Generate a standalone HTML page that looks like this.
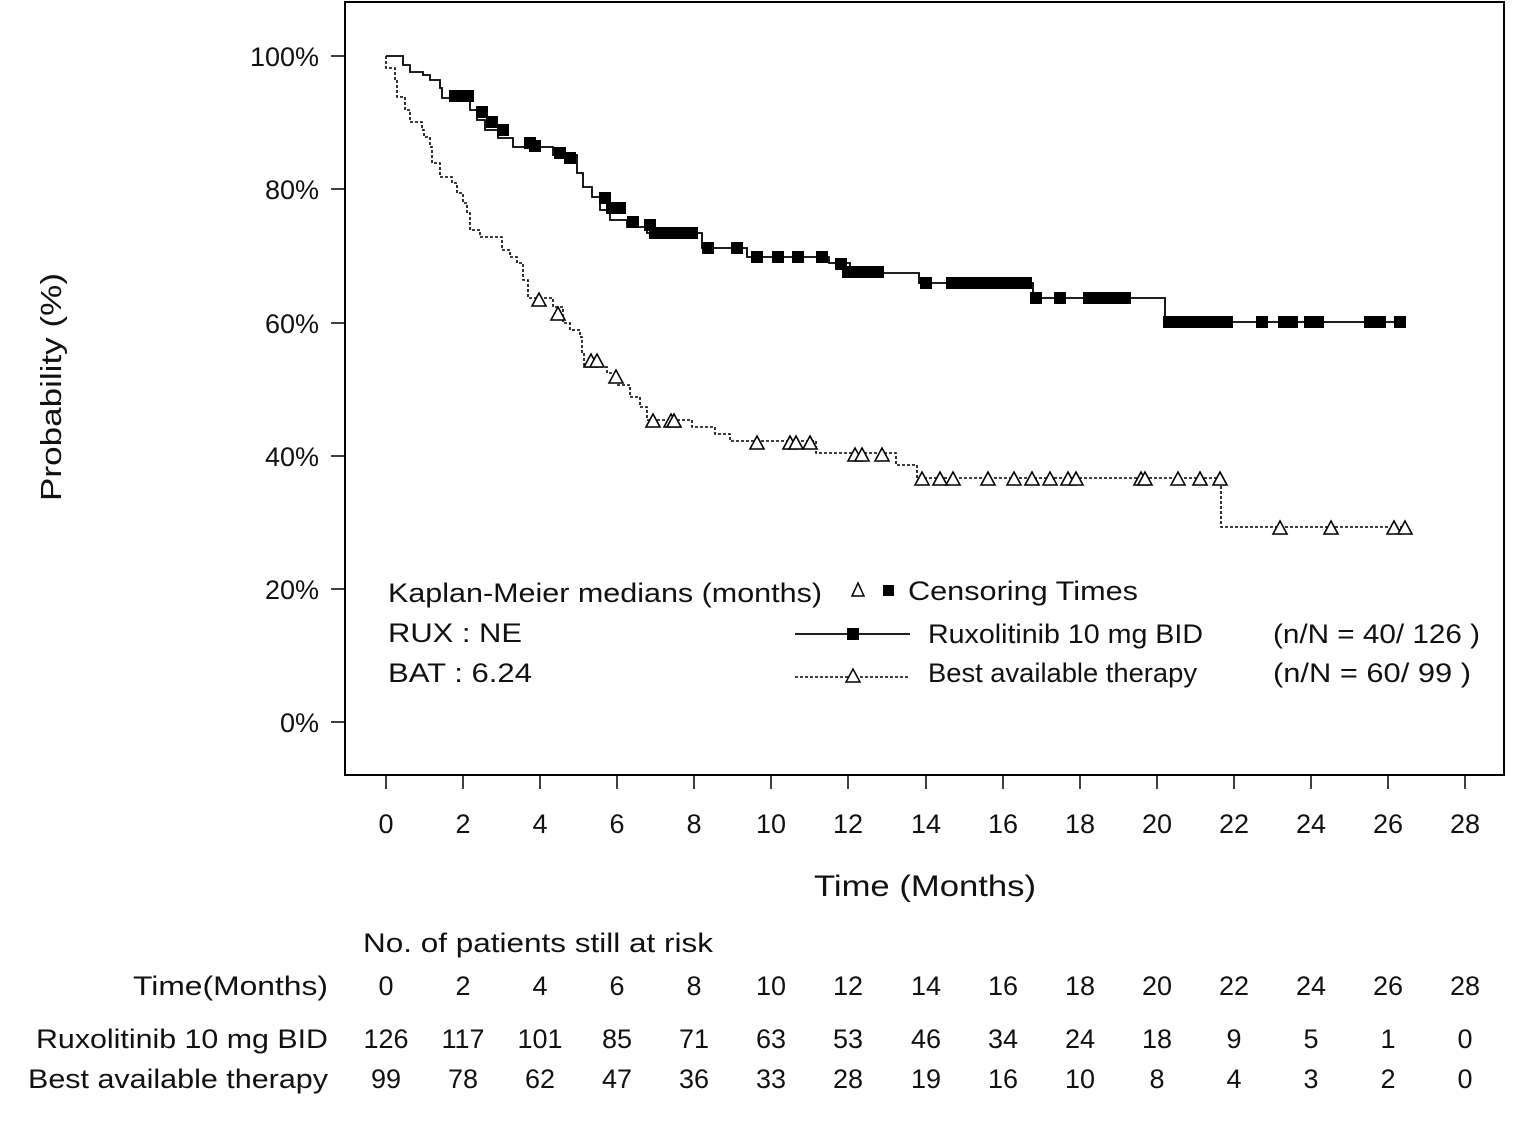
<!DOCTYPE html>
<html><head><meta charset="utf-8"><style>
html,body{margin:0;padding:0;background:#fff;}
svg{display:block;}
text{font-family:"Liberation Sans",Arial,sans-serif;fill:#111;}
</style></head><body>
<svg width="1530" height="1146" viewBox="0 0 1530 1146" xmlns="http://www.w3.org/2000/svg">
<defs>
<g id="sq"><rect x="-6" y="-6" width="12" height="12" fill="#000"/></g>
<g id="tr"><path d="M0,-7 L7,6 L-7,6 Z" fill="#fff" stroke="#000" stroke-width="1.6"/></g>
</defs>
<rect x="345" y="2" width="1159" height="773" fill="none" stroke="#000" stroke-width="2"/>
<!-- y ticks -->
<g stroke="#000" stroke-width="1.5">
<line x1="331" y1="56" x2="345" y2="56"/><line x1="331" y1="189" x2="345" y2="189"/>
<line x1="331" y1="323" x2="345" y2="323"/><line x1="331" y1="456" x2="345" y2="456"/>
<line x1="331" y1="589" x2="345" y2="589"/><line x1="331" y1="722" x2="345" y2="722"/>
</g>
<g font-size="27" text-anchor="end">
<text x="319" y="66">100%</text><text x="319" y="199">80%</text><text x="319" y="333">60%</text>
<text x="319" y="466">40%</text><text x="319" y="599">20%</text><text x="319" y="732">0%</text>
</g>
<text transform="translate(61,387) rotate(-90)" font-size="29" text-anchor="middle" textLength="228" lengthAdjust="spacingAndGlyphs">Probability (%)</text>
<!-- x ticks -->
<g stroke="#000" stroke-width="1.5">
<line x1="386" y1="775" x2="386" y2="789"/><line x1="463" y1="775" x2="463" y2="789"/>
<line x1="540" y1="775" x2="540" y2="789"/><line x1="617" y1="775" x2="617" y2="789"/>
<line x1="694" y1="775" x2="694" y2="789"/><line x1="771" y1="775" x2="771" y2="789"/>
<line x1="848" y1="775" x2="848" y2="789"/><line x1="926" y1="775" x2="926" y2="789"/>
<line x1="1003" y1="775" x2="1003" y2="789"/><line x1="1080" y1="775" x2="1080" y2="789"/>
<line x1="1157" y1="775" x2="1157" y2="789"/><line x1="1234" y1="775" x2="1234" y2="789"/>
<line x1="1311" y1="775" x2="1311" y2="789"/><line x1="1388" y1="775" x2="1388" y2="789"/>
<line x1="1465" y1="775" x2="1465" y2="789"/>
</g>
<g font-size="27" text-anchor="middle">
<text x="386" y="833">0</text><text x="463" y="833">2</text><text x="540" y="833">4</text><text x="617" y="833">6</text>
<text x="694" y="833">8</text><text x="771" y="833">10</text><text x="848" y="833">12</text><text x="926" y="833">14</text>
<text x="1003" y="833">16</text><text x="1080" y="833">18</text><text x="1157" y="833">20</text><text x="1234" y="833">22</text>
<text x="1311" y="833">24</text><text x="1388" y="833">26</text><text x="1465" y="833">28</text>
</g>
<text x="814" y="896" font-size="30" textLength="222" lengthAdjust="spacingAndGlyphs">Time (Months)</text>

<!-- RUX curve -->
<polyline fill="none" stroke="#000" stroke-width="1.8" points="386,56 403,56 403,65 410,65 410,72 423,72 423,75 430,75 430,80 440,80 440,88 442,88 442,98 470,98 470,110 477,110 477,120 485,120 485,130 498,130 498,138 513,138 513,147 553,147 553,155 577,155 577,173 583,173 583,187 592,187 592,197 600,197 600,210 610,210 610,220 627,220 627,227 647,227 647,233 702,233 702,248 747,248 747,257 829,257 829,263 850,263 850,273 919,273 919,283 1033,283 1033,298 1165,298 1165,322 1400,322"/>
<!-- BAT curve -->
<polyline fill="none" stroke="#000" stroke-width="1.6" stroke-dasharray="3,2" points="386,56 386,68 395,68 395,80 397,80 397,97 405,97 405,110 410,110 410,122 422,122 422,130 424,130 424,137 430,137 430,147 432,147 432,163 440,163 440,177 452,177 452,183 457,183 457,193 463,193 463,203 467,203 467,213 470,213 470,230 480,230 480,237 502,237 502,250 510,250 510,257 517,257 517,263 523,263 523,280 528,280 528,298 553,298 553,307 563,307 563,323 570,323 570,330 580,330 580,337 582,337 582,353 584,353 584,367 607,367 607,373 617,373 617,385 630,385 630,397 640,397 640,407 647,407 647,420 692,420 692,427 715,427 715,434 730,434 730,441 816,441 816,453 896,453 896,465 917,465 917,478 1221,478 1221,527 1410,527"/>

<!-- RUX censor squares -->
<g>
<use href="#sq" x="455" y="96"/><use href="#sq" x="462" y="96"/><use href="#sq" x="468" y="96"/>
<use href="#sq" x="482" y="112"/><use href="#sq" x="492" y="122"/><use href="#sq" x="503" y="130"/>
<use href="#sq" x="530" y="143"/><use href="#sq" x="535" y="146"/><use href="#sq" x="560" y="153"/><use href="#sq" x="570" y="158"/>
<use href="#sq" x="605" y="198"/><use href="#sq" x="612" y="208"/><use href="#sq" x="620" y="208"/><use href="#sq" x="633" y="222"/>
<use href="#sq" x="650" y="225"/><use href="#sq" x="655" y="233"/><use href="#sq" x="665" y="233"/><use href="#sq" x="675" y="233"/><use href="#sq" x="685" y="233"/><use href="#sq" x="692" y="233"/>
<use href="#sq" x="708" y="248"/><use href="#sq" x="737" y="248"/>
<use href="#sq" x="757" y="257"/><use href="#sq" x="778" y="257"/><use href="#sq" x="798" y="257"/><use href="#sq" x="822" y="257"/>
<use href="#sq" x="841" y="264"/><use href="#sq" x="848" y="272"/><use href="#sq" x="858" y="272"/><use href="#sq" x="868" y="272"/><use href="#sq" x="878" y="272"/>
<use href="#sq" x="926" y="283"/>
<rect x="946" y="277" width="86" height="12" fill="#000"/>
<use href="#sq" x="1036" y="298"/><use href="#sq" x="1060" y="298"/>
<rect x="1083" y="292" width="48" height="12" fill="#000"/>
<rect x="1163" y="316" width="70" height="12" fill="#000"/>
<use href="#sq" x="1262" y="322"/><use href="#sq" x="1284" y="322"/><use href="#sq" x="1292" y="322"/><use href="#sq" x="1310" y="322"/><use href="#sq" x="1318" y="322"/>
<use href="#sq" x="1370" y="322"/><use href="#sq" x="1380" y="322"/><use href="#sq" x="1400" y="322"/>
</g>
<!-- BAT censor triangles -->
<g>
<use href="#tr" x="539" y="300"/><use href="#tr" x="558" y="314"/><use href="#tr" x="591" y="361"/><use href="#tr" x="597" y="361"/>
<use href="#tr" x="616" y="377"/><use href="#tr" x="653" y="421"/><use href="#tr" x="671" y="421"/><use href="#tr" x="674" y="421"/>
<use href="#tr" x="757" y="443"/><use href="#tr" x="790" y="443"/><use href="#tr" x="796" y="443"/><use href="#tr" x="810" y="443"/>
<use href="#tr" x="855" y="455"/><use href="#tr" x="862" y="455"/><use href="#tr" x="882" y="455"/>
<use href="#tr" x="922" y="479"/><use href="#tr" x="940" y="479"/><use href="#tr" x="953" y="479"/><use href="#tr" x="988" y="479"/>
<use href="#tr" x="1014" y="479"/><use href="#tr" x="1032" y="479"/><use href="#tr" x="1050" y="479"/><use href="#tr" x="1068" y="479"/><use href="#tr" x="1076" y="479"/>
<use href="#tr" x="1141" y="479"/><use href="#tr" x="1145" y="479"/><use href="#tr" x="1178" y="479"/><use href="#tr" x="1200" y="479"/><use href="#tr" x="1220" y="479"/>
<use href="#tr" x="1280" y="528"/><use href="#tr" x="1331" y="528"/><use href="#tr" x="1394" y="528"/><use href="#tr" x="1405" y="528"/>
</g>

<!-- legend -->
<g font-size="27">
<text x="388" y="602" textLength="434" lengthAdjust="spacingAndGlyphs">Kaplan-Meier medians (months)</text>
<text x="388" y="642" textLength="134" lengthAdjust="spacingAndGlyphs">RUX : NE</text>
<text x="388" y="682" textLength="144" lengthAdjust="spacingAndGlyphs">BAT : 6.24</text>
<text x="908" y="600" textLength="230" lengthAdjust="spacingAndGlyphs">Censoring Times</text>
<text x="928" y="643" textLength="275" lengthAdjust="spacingAndGlyphs">Ruxolitinib 10 mg BID</text>
<text x="928" y="682" textLength="269" lengthAdjust="spacingAndGlyphs">Best available therapy</text>
<text x="1273" y="643" textLength="207" lengthAdjust="spacingAndGlyphs">(n/N = 40/ 126 )</text>
<text x="1273" y="682" textLength="198" lengthAdjust="spacingAndGlyphs">(n/N = 60/ 99  )</text>
</g>
<path d="M858,583 L864,596 L852,596 Z" fill="#fff" stroke="#000" stroke-width="1.5"/>
<rect x="883" y="585" width="11" height="11" fill="#000"/>
<line x1="795" y1="634" x2="910" y2="634" stroke="#000" stroke-width="1.8"/>
<rect x="847" y="628" width="12" height="12" fill="#000"/>
<line x1="795" y1="677" x2="910" y2="677" stroke="#000" stroke-width="1.5" stroke-dasharray="3,2"/>
<path d="M853,669 L860,682 L846,682 Z" fill="#fff" stroke="#000" stroke-width="1.5"/>

<!-- risk table -->
<g font-size="27">
<text x="363" y="952" textLength="350" lengthAdjust="spacingAndGlyphs">No. of patients still at risk</text>
<text x="328" y="995" text-anchor="end" textLength="195" lengthAdjust="spacingAndGlyphs">Time(Months)</text>
<text x="328" y="1048" text-anchor="end" textLength="292" lengthAdjust="spacingAndGlyphs">Ruxolitinib 10 mg BID</text>
<text x="328" y="1088" text-anchor="end" textLength="300" lengthAdjust="spacingAndGlyphs">Best available therapy</text>
</g>
<g font-size="27" text-anchor="middle">
<text x="386" y="995">0</text><text x="463" y="995">2</text><text x="540" y="995">4</text><text x="617" y="995">6</text>
<text x="694" y="995">8</text><text x="771" y="995">10</text><text x="848" y="995">12</text><text x="926" y="995">14</text>
<text x="1003" y="995">16</text><text x="1080" y="995">18</text><text x="1157" y="995">20</text><text x="1234" y="995">22</text>
<text x="1311" y="995">24</text><text x="1388" y="995">26</text><text x="1465" y="995">28</text>
<text x="386" y="1048">126</text><text x="463" y="1048">117</text><text x="540" y="1048">101</text><text x="617" y="1048">85</text>
<text x="694" y="1048">71</text><text x="771" y="1048">63</text><text x="848" y="1048">53</text><text x="926" y="1048">46</text>
<text x="1003" y="1048">34</text><text x="1080" y="1048">24</text><text x="1157" y="1048">18</text><text x="1234" y="1048">9</text>
<text x="1311" y="1048">5</text><text x="1388" y="1048">1</text><text x="1465" y="1048">0</text>
<text x="386" y="1088">99</text><text x="463" y="1088">78</text><text x="540" y="1088">62</text><text x="617" y="1088">47</text>
<text x="694" y="1088">36</text><text x="771" y="1088">33</text><text x="848" y="1088">28</text><text x="926" y="1088">19</text>
<text x="1003" y="1088">16</text><text x="1080" y="1088">10</text><text x="1157" y="1088">8</text><text x="1234" y="1088">4</text>
<text x="1311" y="1088">3</text><text x="1388" y="1088">2</text><text x="1465" y="1088">0</text>
</g>
</svg>
</body></html>
